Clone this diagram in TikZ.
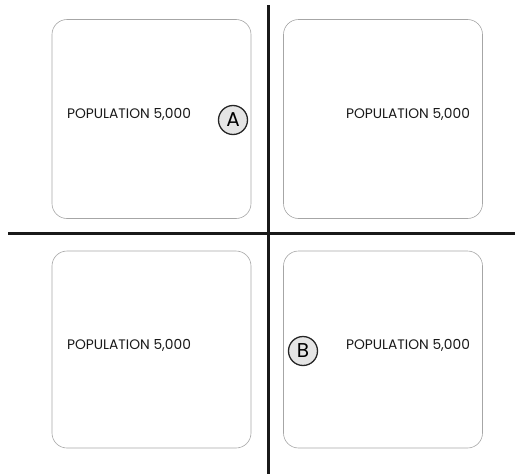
\documentclass[tikz,border=0pt]{standalone}
\usepackage{fontspec}
\setmainfont{Poppins}
\begin{document}
\begin{tikzpicture}[x=1pt,y=-1pt]
    \tikzset{region/.style = {draw=black!35,line width=0.6pt,rounded corners=15pt,minimum width=199pt,minimum height=199pt,inner sep=0pt},
             border/.style = {line width=3pt,black!90},
             pop/.style = {font=\fontsize{13.8}{16}\selectfont,text=black!90,inner sep=0pt},
             site/.style = {circle,draw=black!85,line width=1.3pt,fill=black!10,minimum size=29pt,inner sep=0pt,font=\fontsize{20}{22}\selectfont}}
    \useasboundingbox (0,0) rectangle (515,474);
     \node[region] (TL) at (151.5,119) {};
     \node[region] (TR) at (383,119) {};
     \node[region,minimum height=197pt] (BL) at (151.5,349.5) {};
     \node[region,minimum height=197pt] (BR) at (383,349.5) {};

     \node[pop] (popTL) at (129,114) {POPULATION 5,000};
     \node[pop] (popTR) at (408,114) {POPULATION 5,000};
     \node[pop] (popBL) at (129,345) {POPULATION 5,000};
     \node[pop] (popBR) at (408,345) {POPULATION 5,000};

     \node[site] (A) at (233,120) {A};
     \node[site] (B) at (303,351) {B};

     \coordinate (north) at (268,5);
     \coordinate (south) at (268,474);
     \coordinate (west) at (8,233);
     \coordinate (east) at (515,233);
     \draw[border](north) --(south);
     \draw[border](west) --(east);
\end{tikzpicture}
\end{document}
